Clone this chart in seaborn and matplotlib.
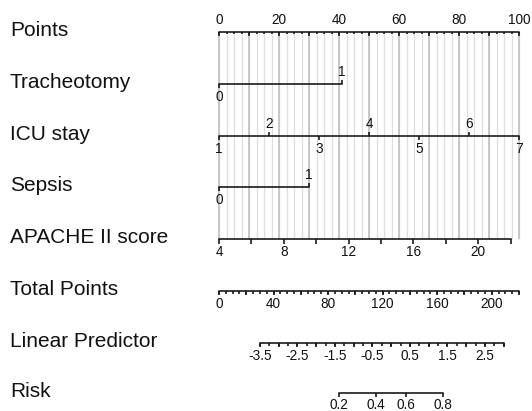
import numpy as np
import pandas as pd
import matplotlib.pyplot as plt
import seaborn as sns

# --- data ---
row_names = ["Points", "Tracheotomy", "ICU stay", "Sepsis", "APACHE II score",
             "Total Points", "Linear Predictor", "Risk"]

trach_levels = [0, 1]
trach_points = [0, 41]

icu_levels = [1, 2, 3, 4, 5, 6, 7]
icu_points = [0, 16.7, 33.3, 50, 66.7, 83.3, 100]

sepsis_levels = [0, 1]
sepsis_points = [0, 30]

apache_ends = [4, 22]
apache_points = [0, 97.2]
apache_labels = [4, 8, 12, 16, 20]

total_max = 220
total_labels = [0, 40, 80, 120, 160, 200]

lp_ends = [-3.5, 2.5]
lp_total = [30, 195]
lp_range = [-3.5, 3.0]
lp_labels = [-3.5, -2.5, -1.5, -0.5, 0.5, 1.5, 2.5]

risk_labels = [0.2, 0.4, 0.6, 0.8]

# --- layout (pixel rows) ---
row_y = [32, 84, 136, 187, 239, 291, 343, 393]
LINE = "#1a1a1a"
LW = 1.2
OFF = 12.5

sns.set_theme(style="white")
plt.rcParams['font.family'] = ['Liberation Sans', 'DejaVu Sans']

fig = plt.figure(figsize=(5.32, 4.11), dpi=100)
ax = fig.add_axes([0, 0, 1, 1])
ax.set_xlim(-73, 104.33)
ax.set_ylim(411, 0)
ax.axis('off')


def apache_x(v):
    return np.interp(v, apache_ends, apache_points)


def total_x(tp):
    return np.asarray(tp) * 100 / total_max


def lp_x(lp):
    slope = (lp_total[1] - lp_total[0]) / (lp_ends[1] - lp_ends[0])
    return total_x(lp_total[0] + (np.asarray(lp) - lp_ends[0]) * slope)


def axis_line(y, x0, x1):
    seg = pd.DataFrame({'x': [x0, x1], 'y': [y, y]})
    sns.lineplot(data=seg, x='x', y='y', color=LINE, linewidth=LW,
                 estimator=None, sort=False, ax=ax)


def ticks(y, xs, length, up=False):
    y2 = y - length if up else y + length
    ax.vlines(xs, y, y2, color=LINE, linewidth=LW)


def labels(y, xs, texts, up=False, off=OFF):
    for x, t in zip(xs, texts):
        ax.text(x, y - off if up else y + off, t, ha='center', va='center',
                fontsize=9.8, color="#111111")


# gridlines behind everything
grid_minor = np.arange(0, 100.1, 2.5)
grid_major = np.arange(0, 100.1, 10)
ax.vlines(grid_minor, row_y[0] + 2, row_y[4], color="#dedede", linewidth=0.9, zorder=0)
ax.vlines(grid_major, row_y[0] + 2, row_y[4], color="#c4c4c4", linewidth=1.3, zorder=0)

# row names
for name, y in zip(row_names, row_y):
    ax.text(-69.7, y - 2, name, ha='left', va='center', fontsize=15, color="#111111")

# Points
y = row_y[0]
axis_line(y, 0, 100)
ticks(y, grid_minor, 2.5)
ticks(y, grid_major, 4)
labels(y, np.arange(0, 101, 20), [str(v) for v in range(0, 101, 20)], up=True)

# Tracheotomy
y = row_y[1]
axis_line(y, trach_points[0], trach_points[1])
ticks(y, [trach_points[0]], 4)
ticks(y, [trach_points[1]], 4, up=True)
labels(y, [trach_points[0]], ["0"])
labels(y, [trach_points[1]], ["1"], up=True)

# ICU stay
y = row_y[2]
axis_line(y, icu_points[0], icu_points[-1])
ticks(y, icu_points[0::2], 4)
ticks(y, icu_points[1::2], 4, up=True)
labels(y, icu_points[0::2], [str(v) for v in icu_levels[0::2]])
labels(y, icu_points[1::2], [str(v) for v in icu_levels[1::2]], up=True)

# Sepsis
y = row_y[3]
axis_line(y, sepsis_points[0], sepsis_points[1])
ticks(y, [sepsis_points[0]], 4)
ticks(y, [sepsis_points[1]], 4, up=True)
labels(y, [sepsis_points[0]], ["0"])
labels(y, [sepsis_points[1]], ["1"], up=True)

# APACHE II score
y = row_y[4]
axis_line(y, apache_x(apache_ends[0]), apache_x(apache_ends[1]))
ticks(y, apache_x(np.arange(apache_ends[0], apache_ends[1] + 1, 2)), 4.5)
labels(y, apache_x(apache_labels), [str(v) for v in apache_labels])

# Total Points
y = row_y[5]
axis_line(y, 0, total_x(total_max))
ticks(y, total_x(np.arange(0, total_max + 1, 5)), 2.5)
ticks(y, total_x(np.arange(0, total_max + 1, 20)), 4)
labels(y, total_x(total_labels), [str(v) for v in total_labels])

# Linear Predictor
y = row_y[6]
axis_line(y, lp_x(lp_range[0]), lp_x(lp_range[1]))
ticks(y, lp_x(np.arange(lp_range[0], lp_range[1] + 0.01, 0.25)), 2.5)
ticks(y, lp_x(np.arange(lp_range[0], lp_range[1] + 0.01, 0.5)), 4)
labels(y, lp_x(lp_labels), [f"{v:g}" for v in lp_labels])

# Risk
y = row_y[7]
risk = np.array(risk_labels)
risk_pos = lp_x(np.log(risk / (1 - risk)))
axis_line(y, risk_pos[0], risk_pos[-1])
ticks(y, risk_pos, 4)
labels(y, risk_pos, [f"{v:.1f}" for v in risk_labels], off=11.5)

plt.savefig('out.png', dpi=100)
